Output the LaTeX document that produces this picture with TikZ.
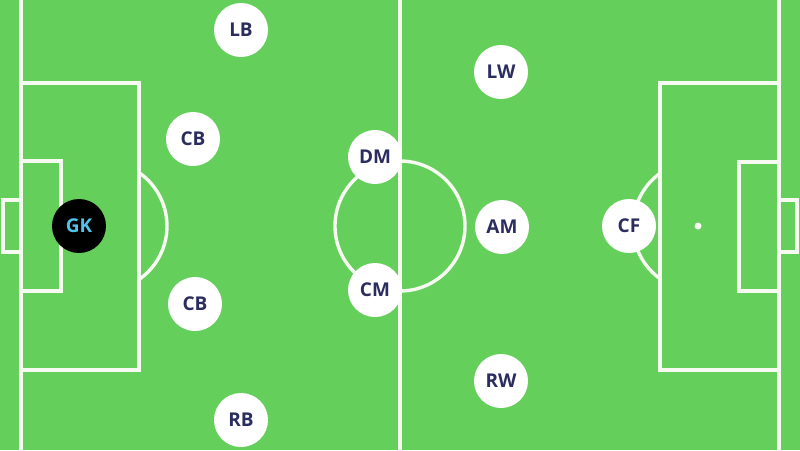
\documentclass[tikz,border=0pt]{standalone}
\usepackage{fontspec}
\setmainfont{Open Sans}
\definecolor{grass}{RGB}{101,207,92}
\definecolor{chalk}{RGB}{246,250,240}
\definecolor{shirt}{RGB}{43,45,94}
\definecolor{keepertext}{RGB}{80,196,232}

\begin{document}
\begin{tikzpicture}[x=1pt,y=-1pt,
  chalkline/.style={draw=chalk,line width=3.4pt},
  player/.style={circle,fill=white,minimum size=54pt,inner sep=0pt,text=shirt,font=\bfseries\fontsize{19}{19}\selectfont},
  keeper/.style={player,fill=black,text=keepertext}]
\fill[grass] (0,0) rectangle (800,450);
\useasboundingbox (0,0) rectangle (800,450);
\draw[chalkline] (21,0) -- (21,450);
\draw[chalkline] (779,0) -- (779,450);
\draw[chalkline] (400,0) -- (400,450);
\draw[chalkline] (400,226) circle[radius=65pt];
\draw[chalkline] (21,83) -- (139,83) -- (139,370) -- (21,370);
\draw[chalkline] (21,161) -- (61,161) -- (61,291) -- (21,291);
\draw[chalkline] (21,200) -- (3,200) -- (3,252) -- (21,252);
\draw[chalkline] (139,172.6) arc[start angle=55.3,end angle=-55.3,radius=65pt];
\draw[chalkline] (779,83) -- (660,83) -- (660,370) -- (779,370);
\draw[chalkline] (779,162) -- (739,162) -- (739,291) -- (779,291);
\draw[chalkline] (779,200) -- (797,200) -- (797,252) -- (779,252);
\draw[chalkline] (660,173.3) arc[start angle=125.8,end angle=234.2,radius=65pt];
\fill[chalk] (102,226) circle[radius=3.5pt];
\fill[chalk] (698,226) circle[radius=3.5pt];
\node[keeper] (gk) at (79,226) {GK};
\node[player] (lb) at (241,30) {LB};
\node[player] (lcb) at (193,139) {CB};
\node[player] (rcb) at (195,304) {CB};
\node[player] (rb) at (241,420) {RB};
\node[player] (dm) at (375,157) {DM};
\node[player] (cm) at (375,290) {CM};
\node[player] (lw) at (501,72) {LW};
\node[player] (am) at (502,227) {AM};
\node[player] (rw) at (501,381) {RW};
\node[player] (cf) at (629,226) {CF};
\end{tikzpicture}
\end{document}
